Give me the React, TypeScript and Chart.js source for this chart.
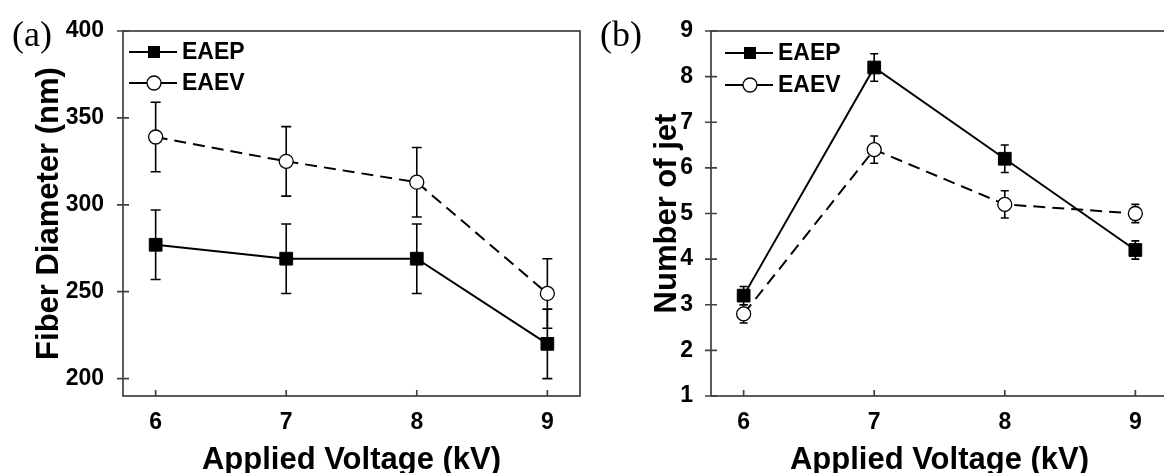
import { useEffect, useRef } from "react";
import { Chart, registerables } from "chart.js";

Chart.register(...registerables);

// Shared x axis: applied voltage (kV)
const voltages = [6, 7, 8, 9];
const voltageTicks = [6, 7, 8, 9];

// Panel (a): fiber diameter (nm)
const diameterTicks = [200, 250, 300, 350, 400];
const diameterEAEP = [277, 269, 269, 220];
const diameterEAEPErr = [20, 20, 20, 20];
const diameterEAEV = [339, 325, 313, 249];
const diameterEAEVErr = [20, 20, 20, 20];

// Panel (b): number of jets
const jetTicks = [1, 2, 3, 4, 5, 6, 7, 8, 9];
const jetEAEP = [3.2, 8.2, 6.2, 4.2];
const jetEAEPErr = [0.2, 0.3, 0.3, 0.2];
const jetEAEV = [2.8, 6.4, 5.2, 5.0];
const jetEAEVErr = [0.2, 0.3, 0.3, 0.2];

const seriesNames = ["EAEP", "EAEV"];

const SANS = "'Liberation Sans', Arial, sans-serif";
const SERIF = "'Liberation Serif', 'Times New Roman', serif";
const FRAME = "#404040";

type PanelSpec = {
  tag: string;
  yTitle: string;
  yMin: number;
  yMax: number;
  yTicks: number[];
  eaep: number[];
  eaepErr: number[];
  eaev: number[];
  eaevErr: number[];
  yTitleOffset: number;
  yTickPad: number;
  capHalf: number;
  legendLeft: number;
  legendRows: number[];
};

// Vertical error bars with caps, drawn beneath the markers
const errorBarPlugin = {
  id: "errorBars",
  beforeDatasetsDraw(chart: any, _args: any, opts: any) {
    const ctx = chart.ctx;
    const yScale = chart.scales.y;
    const half = opts.capHalf ?? 5;
    ctx.save();
    ctx.strokeStyle = "#000";
    ctx.lineWidth = 1.6;
    ctx.setLineDash([]);
    chart.data.datasets.forEach((ds: any, i: number) => {
      const meta = chart.getDatasetMeta(i);
      meta.data.forEach((pt: any, j: number) => {
        const v = ds.data[j].y;
        const e = ds.errors[j];
        const top = yScale.getPixelForValue(v + e);
        const bot = yScale.getPixelForValue(v - e);
        ctx.beginPath();
        ctx.moveTo(pt.x, top);
        ctx.lineTo(pt.x, bot);
        ctx.moveTo(pt.x - half, top);
        ctx.lineTo(pt.x + half, top);
        ctx.moveTo(pt.x - half, bot);
        ctx.lineTo(pt.x + half, bot);
        ctx.stroke();
      });
    });
    ctx.restore();
  },
};

// Closed frame around the plot area with tick marks on the left and bottom edges
const framePlugin = {
  id: "frame",
  afterDatasetsDraw(chart: any) {
    const ctx = chart.ctx;
    const { left, right, top, bottom } = chart.chartArea;
    const xs = chart.scales.x;
    const ys = chart.scales.y;
    ctx.save();
    ctx.strokeStyle = FRAME;
    ctx.lineWidth = 1.7;
    ctx.setLineDash([]);
    ctx.strokeRect(left, top, right - left, bottom - top);
    ctx.beginPath();
    xs.ticks.forEach((t: any) => {
      const px = xs.getPixelForValue(t.value);
      ctx.moveTo(px, bottom);
      ctx.lineTo(px, bottom - 6);
    });
    ys.ticks.forEach((t: any) => {
      const py = ys.getPixelForValue(t.value);
      ctx.moveTo(left - 6, py);
      ctx.lineTo(left + 6, py);
    });
    ctx.stroke();
    ctx.restore();
  },
};

// Legend with a line-through-marker sample, plus the panel tag
const legendPlugin = {
  id: "panelLegend",
  afterDraw(chart: any, _args: any, opts: any) {
    const ctx = chart.ctx;
    ctx.save();
    ctx.font = `36px ${SERIF}`;
    ctx.fillStyle = "#000";
    ctx.textBaseline = "alphabetic";
    ctx.textAlign = "left";
    ctx.fillText(opts.tag, 12, 46);

    const x0 = opts.legendLeft;
    const x1 = x0 + 48;
    const mx = x0 + 25;
    chart.data.datasets.forEach((ds: any, i: number) => {
      const y = opts.legendRows[i];
      ctx.strokeStyle = "#000";
      ctx.lineWidth = 2;
      ctx.setLineDash([]);
      ctx.beginPath();
      ctx.moveTo(x0, y);
      ctx.lineTo(x1, y);
      ctx.stroke();
      if (ds.pointStyle === "rect") {
        ctx.fillStyle = "#000";
        ctx.fillRect(mx - 6, y - 6, 12, 12);
      } else {
        ctx.fillStyle = "#fff";
        ctx.lineWidth = 1.3;
        ctx.beginPath();
        ctx.arc(mx, y, 7, 0, Math.PI * 2);
        ctx.fill();
        ctx.stroke();
      }
      ctx.fillStyle = "#000";
      ctx.font = `bold 23px ${SANS}`;
      ctx.textBaseline = "middle";
      ctx.fillText(ds.label, x1 + 5, y + 1);
    });
    ctx.restore();
  },
};

function Panel({ spec, left }: { spec: PanelSpec; left: number }) {
  const ref = useRef<HTMLCanvasElement | null>(null);

  useEffect(() => {
    if (!ref.current) return;
    const tickFont = { family: SANS, weight: "bold" as const, size: 23 };
    const chart = new Chart(ref.current, {
      type: "line",
      data: {
        datasets: [
          {
            label: seriesNames[0],
            data: voltages.map((x, i) => ({ x, y: spec.eaep[i] })),
            errors: spec.eaepErr,
            borderColor: "#000",
            borderWidth: 2,
            backgroundColor: "#000",
            pointStyle: "rect",
            pointRadius: 9,
            pointBorderWidth: 1,
            pointBackgroundColor: "#000",
            pointBorderColor: "#000",
            tension: 0,
          } as any,
          {
            label: seriesNames[1],
            data: voltages.map((x, i) => ({ x, y: spec.eaev[i] })),
            errors: spec.eaevErr,
            borderColor: "#000",
            borderWidth: 2,
            borderDash: [12, 7],
            backgroundColor: "#fff",
            pointStyle: "circle",
            pointRadius: 7,
            pointBorderWidth: 1.3,
            pointBackgroundColor: "#fff",
            pointBorderColor: "#000",
            tension: 0,
          } as any,
        ],
      },
      options: {
        animation: false,
        responsive: true,
        maintainAspectRatio: false,
        layout: { padding: { top: 31, right: 3, bottom: 0, left: 0 } },
        plugins: {
          legend: { display: false },
          tooltip: { enabled: false },
          errorBars: { capHalf: spec.capHalf },
          panelLegend: {
            tag: spec.tag,
            legendLeft: spec.legendLeft,
            legendRows: spec.legendRows,
          },
        } as any,
        scales: {
          x: {
            type: "linear",
            min: 5.75,
            max: 9.25,
            afterBuildTicks: (s: any) => {
              s.ticks = voltageTicks.map((value) => ({ value }));
            },
            afterFit: (s: any) => {
              s.height = 77;
            },
            grid: { display: false },
            border: { display: false },
            ticks: { color: "#000", font: tickFont, padding: 5 },
            title: {
              display: true,
              text: "Applied Voltage (kV)",
              color: "#000",
              font: { family: SANS, weight: "bold", size: 31, lineHeight: 0.8 },
              padding: 0,
            },
          },
          y: {
            type: "linear",
            min: spec.yMin,
            max: spec.yMax,
            afterBuildTicks: (s: any) => {
              s.ticks = spec.yTicks.map((value) => ({ value }));
            },
            afterFit: (s: any) => {
              s.width = 123;
            },
            grid: { display: false },
            border: { display: false },
            ticks: { color: "#000", font: tickFont, padding: spec.yTickPad },
            title: {
              display: true,
              text: spec.yTitle,
              color: "#000",
              font: { family: SANS, weight: "bold", size: 31, lineHeight: 1.2 },
              padding: { top: spec.yTitleOffset, bottom: 0 },
            },
          },
        },
      },
      plugins: [errorBarPlugin, framePlugin, legendPlugin],
    });
    return () => chart.destroy();
  }, [spec]);

  return (
    <div style={{ position: "absolute", left, top: 0, width: 590, height: 473 }}>
      <canvas ref={ref} />
    </div>
  );
}

const panelA: PanelSpec = {
  tag: "(a)",
  yTitle: "Fiber Diameter (nm)",
  yMin: 190,
  yMax: 400,
  yTicks: diameterTicks,
  eaep: diameterEAEP,
  eaepErr: diameterEAEPErr,
  eaev: diameterEAEV,
  eaevErr: diameterEAEVErr,
  yTitleOffset: 31,
  yTickPad: 11,
  capHalf: 5,
  legendLeft: 129,
  legendRows: [52, 83],
};

const panelB: PanelSpec = {
  tag: "(b)",
  yTitle: "Number of jet",
  yMin: 1,
  yMax: 9,
  yTicks: jetTicks,
  eaep: jetEAEP,
  eaepErr: jetEAEPErr,
  eaev: jetEAEV,
  eaevErr: jetEAEVErr,
  yTitleOffset: 61,
  yTickPad: 10,
  capHalf: 4,
  legendLeft: 137,
  legendRows: [53, 85],
};

export default function App() {
  return (
    <div
      style={{
        position: "absolute",
        left: 0,
        top: 0,
        width: 1164,
        height: 473,
        overflow: "hidden",
        background: "#fff",
      }}
    >
      <Panel spec={panelA} left={0} />
      <Panel spec={panelB} left={588} />
    </div>
  );
}
